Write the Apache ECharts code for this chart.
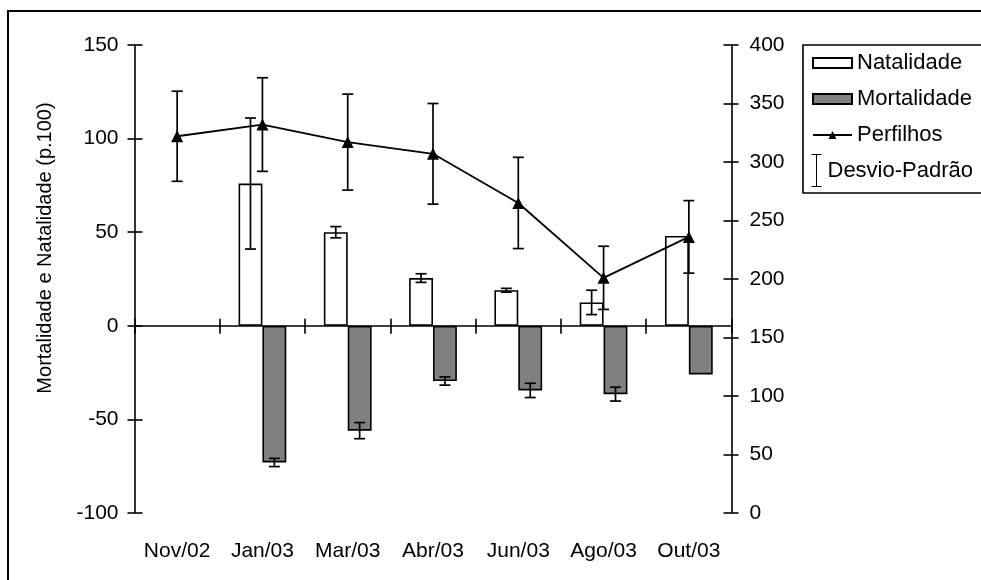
<!DOCTYPE html>
<html>
<head>
<meta charset="utf-8">
<script src="https://cdn.jsdelivr.net/npm/echarts@6/dist/echarts.min.js"></script>
<style>
html,body{margin:0;padding:0;background:#fff;}
#chart{width:981px;height:580px;}
</style>
</head>
<body>
<div id="chart"></div>
<script>
const categories = ['Nov/02','Jan/03','Mar/03','Abr/03','Jun/03','Ago/03','Out/03'];
const natalidade = [null, 76, 50, 25.5, 19, 12.5, 48];
const natalidadeDP = [null, 35, 3, 2.3, 1, 6.5, null];
const mortalidade = [null, -73, -56, -29.5, -34.5, -36.5, -26];
const mortalidadeDP = [null, 2.2, 4.3, 2.2, 3.8, 3.7, null];
const perfilhos = [322, 332, 317, 307, 265, 201, 236];
const perfilhosDP = [38.5, 40, 41, 43, 39, 27, 31];
const leftAxisRange = [-100, 150, 50];
const rightAxisRange = [0, 400, 50];
const yTitle = 'Mortalidade e Natalidade (p.100)';

const FONT = 'Liberation Sans, Arial, sans-serif';
const FS = 21;

function errData(mean, sd) {
  const out = [];
  mean.forEach((m, i) => { if (m != null && sd[i] != null) out.push([i, m, sd[i]]); });
  return out;
}
function errRender(offsetFrac) {
  return function (params, api) {
    const i = api.value(0), m = api.value(1), sd = api.value(2);
    const band = api.size([1, 0])[0];
    const dx = band * offsetFrac;
    const t = api.coord([i, m + sd]);
    const b = api.coord([i, m - sd]);
    const x = t[0] + dx, cap = 5.5;
    const st = { stroke: '#000', lineWidth: 1.7 };
    return {
      type: 'group',
      children: [
        { type: 'line', shape: { x1: x, y1: t[1], x2: x, y2: b[1] }, style: st },
        { type: 'line', shape: { x1: x - cap, y1: t[1], x2: x + cap, y2: t[1] }, style: st },
        { type: 'line', shape: { x1: x - cap, y1: b[1], x2: x + cap, y2: b[1] }, style: st }
      ]
    };
  };
}

const axisLineStyle = { color: '#000', width: 1.6 };
const labelStyle = { color: '#000', fontSize: FS, fontFamily: FONT };

const chart = echarts.init(document.getElementById('chart'), null, { renderer: 'canvas' });
chart.setOption({
  animation: false,
  backgroundColor: '#fff',
  grid: { left: 134.5, right: 249.5, top: 45, bottom: 67, containLabel: false },
  xAxis: [
    { type: 'category', data: categories, position: 'bottom',
      axisLine: { show: false, onZero: false }, axisTick: { show: false },
      axisLabel: Object.assign({ margin: 28, interval: 0 }, labelStyle) },
    { type: 'category', data: categories, position: 'bottom',
      axisLine: { show: true, onZero: true, onZeroAxisIndex: 0, lineStyle: axisLineStyle },
      axisTick: { show: true, inside: true, length: 7, lineStyle: axisLineStyle },
      axisLabel: { show: false } },
    { type: 'category', data: categories, position: 'bottom',
      axisLine: { show: false, onZero: true, onZeroAxisIndex: 0 },
      axisTick: { show: true, inside: false, length: 8, lineStyle: axisLineStyle },
      axisLabel: { show: false } }
  ],
  yAxis: [
    { type: 'value', position: 'left', min: leftAxisRange[0], max: leftAxisRange[1], interval: leftAxisRange[2],
      axisLine: { show: true, lineStyle: axisLineStyle },
      axisTick: { show: true, inside: false, length: 7, lineStyle: axisLineStyle },
      axisLabel: Object.assign({ margin: 16 }, labelStyle), splitLine: { show: false } },
    { type: 'value', position: 'left', min: leftAxisRange[0], max: leftAxisRange[1], interval: leftAxisRange[2],
      axisLine: { show: false },
      axisTick: { show: true, inside: true, length: 8, lineStyle: axisLineStyle },
      axisLabel: { show: false }, splitLine: { show: false } },
    { type: 'value', position: 'right', min: rightAxisRange[0], max: rightAxisRange[1], interval: rightAxisRange[2],
      axisLine: { show: true, lineStyle: axisLineStyle },
      axisTick: { show: true, inside: false, length: 7, lineStyle: axisLineStyle },
      axisLabel: Object.assign({ margin: 18 }, labelStyle), splitLine: { show: false } },
    { type: 'value', position: 'right', min: rightAxisRange[0], max: rightAxisRange[1], interval: rightAxisRange[2],
      axisLine: { show: false },
      axisTick: { show: true, inside: true, length: 8, lineStyle: axisLineStyle },
      axisLabel: { show: false }, splitLine: { show: false } }
  ],
  legend: [
    { show: true, orient: 'vertical', left: 812, top: 52, padding: 0,
      itemWidth: 39, itemHeight: 10, itemGap: 14,
      textStyle: { color: '#000', fontSize: 22, fontFamily: FONT, lineHeight: 22 },
      selectedMode: false,
      data: [{ name: 'Natalidade', icon: 'rect' }, { name: 'Mortalidade', icon: 'rect' }, { name: 'Perfilhos' }] },
    { show: true, orient: 'vertical', left: 809, top: 152, padding: 0,
      itemWidth: 12, itemHeight: 32, itemGap: 0,
      textStyle: { color: '#000', fontSize: 22, fontFamily: FONT, lineHeight: 22 },
      selectedMode: false,
      data: [{ name: 'Desvio-Padrão', icon: 'path://M0,0H10M5,0V32M0,32H10',
               itemStyle: { color: 'none', borderColor: '#000', borderWidth: 1 } }] }
  ],
  graphic: [
    { type: 'rect', shape: { x: 8, y: 11, width: 1000, height: 600 },
      style: { fill: 'none', stroke: '#000', lineWidth: 2 }, silent: true, z: 100 },
    { type: 'rect', shape: { x: 803, y: 45, width: 190, height: 148 },
      style: { fill: 'none', stroke: '#000', lineWidth: 1.6 }, silent: true, z: 100 },
    { type: 'text', x: 45, y: 248, rotation: Math.PI / 2,
      style: { text: yTitle, fill: '#000', fontSize: 20, fontFamily: FONT, align: 'center', verticalAlign: 'middle' } }
  ],
  series: [
    { name: 'Natalidade', type: 'bar', xAxisIndex: 0, yAxisIndex: 0, data: natalidade,
      barWidth: '28%', barGap: '0%',
      itemStyle: { color: '#fff', borderColor: '#000', borderWidth: 1.6 } },
    { name: 'Mortalidade', type: 'bar', xAxisIndex: 0, yAxisIndex: 0, data: mortalidade,
      barWidth: '28%', barGap: '0%',
      itemStyle: { color: '#808080', borderColor: '#000', borderWidth: 1.6 } },
    { name: 'Desvio-Padrão', type: 'custom', xAxisIndex: 0, yAxisIndex: 0,
      renderItem: errRender(-0.14), data: errData(natalidade, natalidadeDP), encode: { x: 0, y: 1 }, z: 5 },
    { name: 'Desvio-Padrão', type: 'custom', xAxisIndex: 0, yAxisIndex: 0,
      renderItem: errRender(0.14), data: errData(mortalidade, mortalidadeDP), encode: { x: 0, y: 1 }, z: 5 },
    { name: 'Desvio-Padrão', type: 'custom', xAxisIndex: 0, yAxisIndex: 2,
      renderItem: errRender(0), data: errData(perfilhos, perfilhosDP), encode: { x: 0, y: 1 }, z: 6 },
    { name: 'Perfilhos', type: 'line', xAxisIndex: 0, yAxisIndex: 2, data: perfilhos,
      symbol: 'triangle', symbolSize: 12, z: 7,
      itemStyle: { color: '#000' }, lineStyle: { color: '#000', width: 1.8 } }
  ]
});
</script>
</body>
</html>
